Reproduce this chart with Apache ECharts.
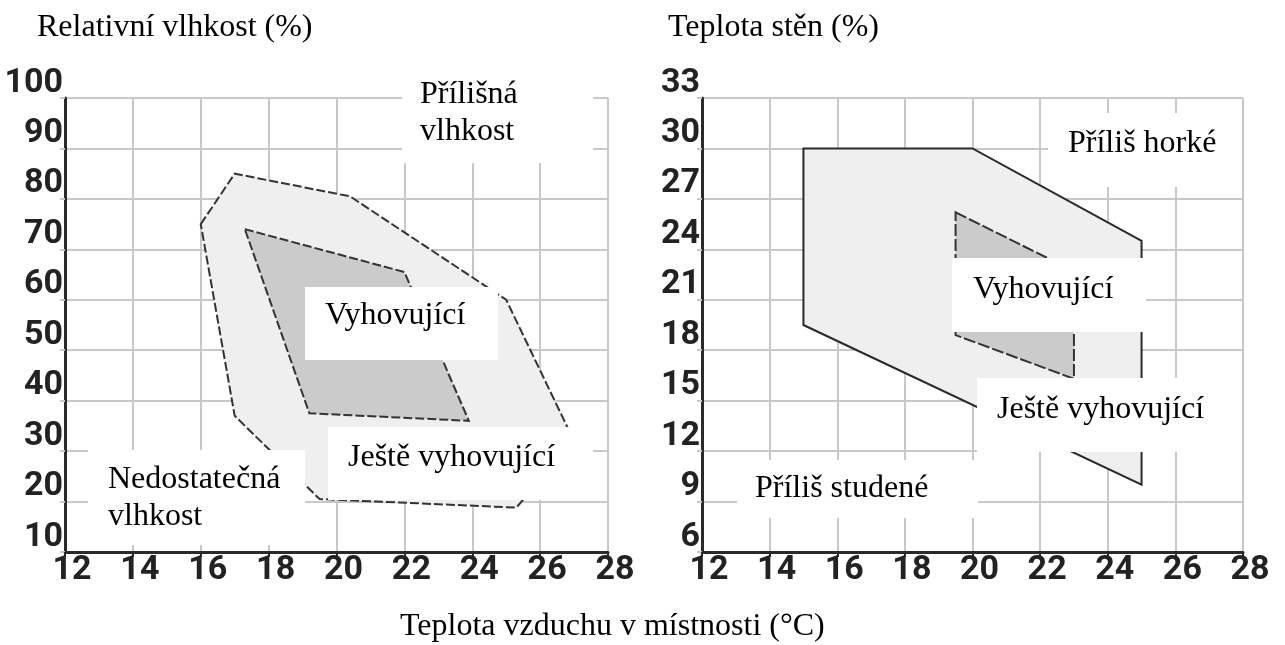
<!DOCTYPE html>
<html>
<head>
<meta charset="utf-8">
<script src="https://cdn.jsdelivr.net/npm/echarts@6/dist/echarts.min.js"></script>
<style>html,body{margin:0;padding:0;background:#fff}#c{width:1285px;height:645px}</style>
</head>
<body>
<div id="c"></div>
<script>
// ---- data ----
const xTicks = [12, 14, 16, 18, 20, 22, 24, 26, 28];
const humidTicks = [10, 20, 30, 40, 50, 60, 70, 80, 90, 100];
const wallTicks = [6, 9, 12, 15, 18, 21, 24, 27, 30, 33];

// Left chart: relative humidity vs air temperature
const humidOuterX = [16, 17, 20.4, 25, 27, 25.3, 19.5, 17];
const humidOuterY = [75, 85, 80.5, 60, 32, 18.8, 20.5, 37];
const humidInnerX = [17.3, 22, 23.9, 19.2];
const humidInnerY = [74, 65.5, 36, 37.5];

// Right chart: wall temperature vs air temperature
const wallOuterX = [15, 20, 25, 25, 15];
const wallOuterY = [30, 30, 24.5, 10, 19.5];
const wallInnerX = [19.5, 23, 23, 19.5];
const wallInnerY = [26.2, 22.7, 16.3, 18.9];

const titleLeft = 'Relativní vlhkost (%)';
const titleRight = 'Teplota stěn (%)';
const titleX = 'Teplota vzduchu v místnosti (°C)';

// ---- chart ----
const zip = (xs, ys) => xs.map((x, i) => [x, ys[i]]);
const serif = '"Liberation Serif", "Times New Roman", serif';
const tickFont = 'Roboto, "DejaVu Sans Condensed", sans-serif';

function poly(idx, pts, fill, stroke, dash, z) {
  return {
    type: 'custom', xAxisIndex: idx, yAxisIndex: idx, z: z, data: pts,
    renderItem: function (params, api) {
      if (params.dataIndex !== 0) return;
      const points = pts.map(p => api.coord(p));
      return {
        type: 'polygon', shape: { points: points },
        style: { fill: fill, stroke: stroke, lineWidth: 2, lineDash: dash }
      };
    }
  };
}

function xAxis(idx) {
  return {
    type: 'value', gridIndex: idx, min: xTicks[0], max: xTicks[xTicks.length - 1], interval: 2,
    axisLine: { show: true, onZero: false, lineStyle: { color: '#2a2a2a', width: 3 } },
    axisTick: { show: true, length: 5, lineStyle: { color: '#2a2a2a', width: 2 } },
    splitLine: { show: true, lineStyle: { color: '#c8c8c8', width: 2 } },
    axisLabel: { fontFamily: tickFont, fontSize: 34, fontWeight: 'bold', color: '#222', margin: 1, padding: [0, 0, 0, 14] }
  };
}
function yAxis(idx, ticks) {
  return {
    type: 'value', gridIndex: idx, min: ticks[0], max: ticks[ticks.length - 1], interval: ticks[1] - ticks[0],
    axisLine: { show: true, lineStyle: { color: '#2a2a2a', width: 3 } },
    axisTick: { show: true, length: 5, lineStyle: { color: '#c8c8c8', width: 2 } },
    splitLine: { show: true, lineStyle: { color: '#c8c8c8', width: 2 } },
    axisLabel: { fontFamily: tickFont, fontSize: 34, fontWeight: 'bold', color: '#222', margin: 2, verticalAlign: 'bottom', lineHeight: 30 }
  };
}

function box(x, y, w, h, text, tx, ty, lh) {
  return [
    { type: 'rect', shape: { x: x, y: y, width: w, height: h }, style: { fill: '#fff' }, z: 100 },
    { type: 'text', x: tx, y: ty, z: 101,
      style: { text: text, font: '32px ' + serif, fill: '#000', verticalAlign: 'top', lineHeight: lh || 37 } }
  ];
}

const graphics = [].concat(
  box(402, 60, 191, 103, 'Přílišná\nvlhkost', 420, 76),
  box(305, 287, 193, 73, 'Vyhovující', 325, 297),
  box(328, 427, 265, 73, 'Ještě vyhovující', 348, 439),
  box(88, 450, 217, 95, 'Nedostatečná\nvlhkost', 108, 461),
  box(1048, 113, 194, 74, 'Příliš horké', 1068, 125),
  box(952, 258, 194, 74, 'Vyhovující', 973, 271),
  box(977, 378, 265, 74, 'Ještě vyhovující', 997, 391),
  box(737, 460, 241, 58, 'Příliš studené', 755, 470)
);

const titleStyle = { fontFamily: serif, fontSize: 32, fontWeight: 'normal', color: '#000' };
const chart = echarts.init(document.getElementById('c'), null, { renderer: 'canvas' });
chart.setOption({
  backgroundColor: '#fff',
  animation: false,
  title: [
    { text: titleLeft, left: 37, top: 12, padding: 0, textStyle: titleStyle },
    { text: titleRight, left: 668, top: 12, padding: 0, textStyle: titleStyle },
    { text: titleX, left: 400, top: 611, padding: 0, textStyle: titleStyle }
  ],
  grid: [
    { left: 65, top: 98, width: 543, height: 454, outerBoundsMode: 'none', containLabel: false },
    { left: 702, top: 98, width: 541, height: 454, outerBoundsMode: 'none', containLabel: false }
  ],
  xAxis: [xAxis(0), xAxis(1)],
  yAxis: [yAxis(0, humidTicks), yAxis(1, wallTicks)],
  series: [
    poly(0, zip(humidOuterX, humidOuterY), '#efefef', '#333', [9, 3], 2),
    poly(0, zip(humidInnerX, humidInnerY), '#cbcbcb', '#333', [9, 3], 3),
    poly(1, zip(wallOuterX, wallOuterY), '#efefef', '#2a2a2a', null, 2),
    poly(1, zip(wallInnerX, wallInnerY), '#cbcbcb', '#333', [12, 3], 3)
  ],
  graphic: graphics
});
</script>
</body>
</html>
